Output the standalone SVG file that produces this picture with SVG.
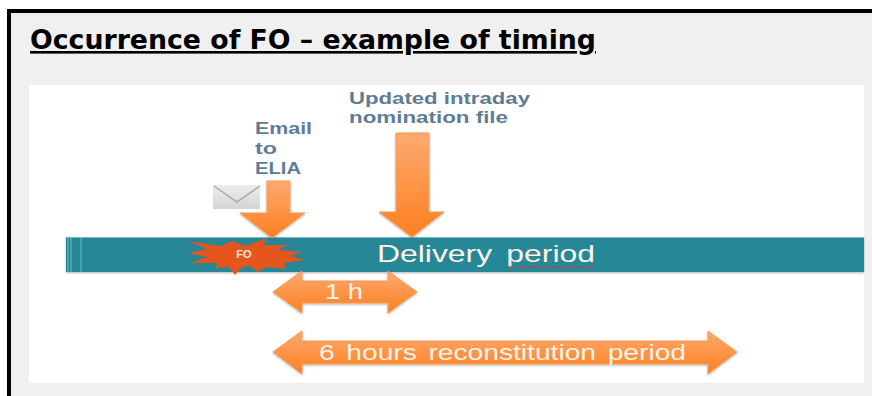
<svg xmlns="http://www.w3.org/2000/svg" width="872" height="396" viewBox="0 0 872 396">
<style>
.ar{fill:url(#og);stroke:#f79a55;stroke-width:1;filter:url(#sh)}
.lab{font-family:"Liberation Sans",Arial,sans-serif;font-weight:bold;font-size:16px;fill:#5f7b96}
.wt{font-family:"Liberation Sans",Arial,sans-serif;fill:#fdf3e8}
</style>
<defs>
<linearGradient id="og" x1="0" y1="0" x2="0" y2="1"><stop offset="0" stop-color="#fdaa70"/><stop offset="1" stop-color="#fd7f1f"/></linearGradient>
<linearGradient id="ev" x1="0" y1="0" x2="0" y2="1"><stop offset="0" stop-color="#ededed"/><stop offset="1" stop-color="#d4d4d6"/></linearGradient>
<filter id="sh" x="-10%" y="-10%" width="120%" height="125%"><feDropShadow dx="0" dy="1" stdDeviation="0.8" flood-color="#000" flood-opacity="0.3"/></filter>
</defs>
<rect width="872" height="396" fill="#fff"/>
<rect x="11" y="13" width="861" height="383" fill="#f0f0f0"/>
<path d="M9 396V11H872" fill="none" stroke="#000" stroke-width="4"/>
<rect x="29" y="85" width="835" height="298" fill="#fff"/>
<g id="title"><text x="30" y="49" font-family="'DejaVu Sans',Verdana,sans-serif" font-weight="bold" font-size="26" style="text-decoration:underline;text-decoration-thickness:3px;text-decoration-skip-ink:none" fill="#000" textLength="566" lengthAdjust="spacingAndGlyphs">Occurrence of FO – example of timing</text></g>
<g id="delivery-bar">
<rect x="66" y="237" width="798" height="35" fill="#268796" filter="url(#sh)"/>
<path d="M66.500 237.500H864M68 237V272M71 237V272M81 237V272" fill="none" stroke="#7fb8c2" stroke-width="1"/>
<text class="wt" x="377" y="262" font-size="24" word-spacing="4" textLength="218" lengthAdjust="spacingAndGlyphs">Delivery period</text>
<path d="M505 267q1.500 2 3 0t3 0 3 0 3 0 3 0 3 0 3 0 3 0 3 0 3 0 3 0 3 0 3 0 3 0 3 0 3 0 3 0 3 0 3 0 3 0 3 0 3 0 3 0 3 0 3 0 3 0 3 0 3 0 3 0 3 0" fill="none" stroke="#c8403f" stroke-width="1"/>
</g>
<g id="email-icon">
<rect x="213" y="185" width="47" height="24" fill="url(#ev)"/>
<path d="M214 186L237 202L260 186" fill="none" stroke="#a9a9ad" stroke-width="1.500"/>
</g>
<g id="connectors">
<path class="ar" d="M267 181H290V213H305L272 238L240 213H267Z"/>
<path class="ar" d="M396 133H429V212H444L412 237L379 212H396Z"/>
<path class="ar" d="M273 292L302 271V281H388V271L417 292L388 313V303H302V313Z"/>
<path class="ar" d="M273 352L302 331V341H708V331L737 352L708 374V364H302V374Z"/>
</g>
<g id="fo-burst">
<path d="M188 241L220 246L233 241L245 246L267 238L263 245L288 245L277 250L302 252L290 256L305 260L284 263L286 269L266 267L258 272L250 266L241 268L235 275L229 267L215 268L218 263L190 263L207 257L188 253L207 249Z" fill="#e5561e"/>
<text x="244" y="258" font-family="'Liberation Sans',Arial,sans-serif" font-weight="bold" font-size="11" fill="#f8e4e4" text-anchor="middle">FO</text>
</g>
<g id="label-email">
<text class="lab" x="255" y="134" textLength="57" lengthAdjust="spacingAndGlyphs">Email</text>
<text class="lab" x="255" y="154" textLength="22" lengthAdjust="spacingAndGlyphs">to</text>
<text class="lab" x="255" y="174" textLength="46" lengthAdjust="spacingAndGlyphs">ELIA</text>
</g>
<g id="label-updated">
<text class="lab" x="349" y="104" textLength="181" lengthAdjust="spacingAndGlyphs">Updated intraday</text>
<text class="lab" x="349" y="123" textLength="159" lengthAdjust="spacingAndGlyphs">nomination file</text>
</g>
<g id="label-1h"><text class="wt" x="325" y="299" font-size="22" textLength="38" lengthAdjust="spacingAndGlyphs">1 h</text></g>
<g id="label-6h"><text class="wt" x="319" y="360" font-size="22" word-spacing="3" textLength="367" lengthAdjust="spacingAndGlyphs">6 hours reconstitution period</text></g>
</svg>
